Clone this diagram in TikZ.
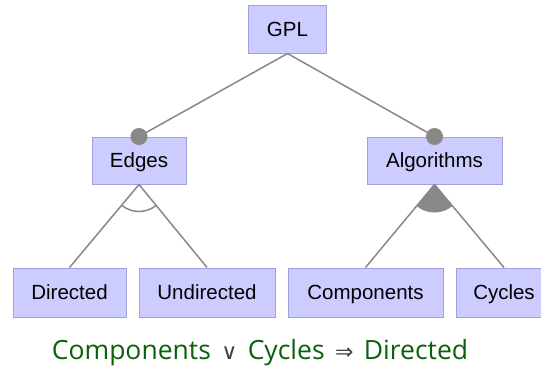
\documentclass[tikz,border=0pt]{standalone}
\usepackage{fontspec}
\setmainfont{Liberation Sans}
\newfontfamily\notefont{Open Sans}
\newfontfamily\symfont{DejaVu Sans}
\usetikzlibrary{calc}
\definecolor{boxfill}{HTML}{CCCCFF}
\definecolor{boxline}{HTML}{A0A0DC}
\definecolor{conn}{HTML}{888888}
\definecolor{notegreen}{HTML}{0B600B}
\definecolor{symgray}{HTML}{404040}
\newcommand{\opsym}[1]{\hspace{3.5pt}{\symfont\color{symgray}\fontsize{22}{26}\selectfont #1}\hspace{3.5pt}}
\tikzset{
  feat/.style={draw=boxline, line width=1pt, fill=boxfill, inner sep=0pt,
    font=\fontsize{20.5}{24}\selectfont, text=black, text height=15pt, text depth=1pt},
  link/.style={draw=conn, line width=1.5pt},
  knob/.style={fill=conn}
}
\begin{document}
\begin{tikzpicture}[x=1pt, y=-1pt]
\useasboundingbox (0,0) rectangle (541,368);
\node[feat, minimum width=78pt, minimum height=48pt] (gpl) at (287.5,29) {GPL};
\node[feat, minimum width=94pt, minimum height=47pt] (edges) at (139,160.5) {Edges};
\node[feat, minimum width=135pt, minimum height=47pt] (algo) at (434.5,160.5) {Algorithms};
\node[feat, minimum width=113pt, minimum height=49pt] (dir) at (69.5,292.5) {Directed};
\node[feat, minimum width=136pt, minimum height=49pt] (undir) at (207,292.5) {Undirected};
\node[feat, minimum width=155pt, minimum height=49pt] (comp) at (365.5,292.5) {Components};
\node[feat, minimum width=96pt, minimum height=49pt] (cyc) at (504,292.5) {Cycles};
% connectors
\draw[link] (gpl.south) -- (edges.north);
\draw[link] (gpl.south) -- (algo.north);
\draw[link] (edges.south) -- (dir.north);
\draw[link] (edges.south) -- (undir.north);
\draw[link] (algo.south) -- (comp.north);
\draw[link] (algo.south) -- (cyc.north);
% mandatory circles
\fill[knob] (edges.north) circle[radius=8.5pt];
\fill[knob] (algo.north) circle[radius=8.5pt];
% alternative arc
\draw[draw=conn, line width=1.5pt]
  let \p0=(edges.south), \p1=(dir.north), \p2=(undir.north),
      \n1={atan2(\y1-\y0,\x1-\x0)}, \n2={atan2(\y2-\y0,\x2-\x0)} in
  (\p0) ++(\n1:27pt) arc[start angle=\n1, end angle=\n2, radius=27pt];
% or sector
\fill[conn]
  let \p0=(algo.south), \p1=(comp.north), \p2=(cyc.north),
      \n1={atan2(\y1-\y0,\x1-\x0)}, \n2={atan2(\y2-\y0,\x2-\x0)} in
  (\p0) -- ++(\n1:28pt) arc[start angle=\n1, end angle=\n2, radius=28pt] -- cycle;
% constraint
\node[anchor=base, inner sep=0pt, text=notegreen, font=\notefont\fontsize{26.5}{32}\selectfont] (rule) at (260,359)
  {Components \opsym{∨} Cycles \opsym{⇒} Directed};
\end{tikzpicture}
\end{document}
